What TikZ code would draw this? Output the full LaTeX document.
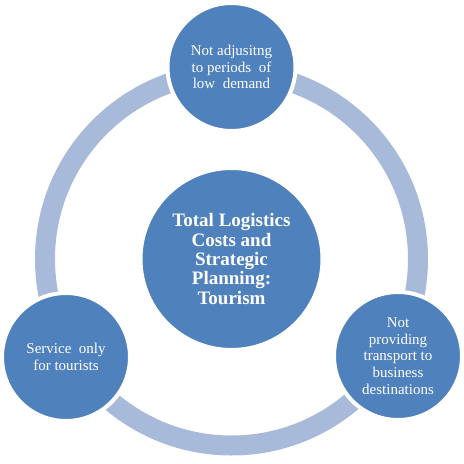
\documentclass[tikz,border=0pt]{standalone}
\usepackage{fontspec}
\setmainfont{Liberation Serif}
\definecolor{nodeblue}{RGB}{79,129,189}
\definecolor{ringblue}{RGB}{168,186,217}
\begin{document}
\begin{tikzpicture}[x=1pt,y=-1pt,
  ring/.style={draw=ringblue,line width=20pt},
  bubble/.style={circle,fill=nodeblue,draw=white,line width=4pt,inner sep=0pt,
    minimum size=128pt,align=center,text=white,font=\fontsize{15}{16.7}\selectfont},
  hub/.style={bubble,minimum size=182pt,font=\fontsize{19}{19.3}\selectfont\bfseries}]
\useasboundingbox (0,0) rectangle (464,464);
\coordinate (c) at (231.5,259);
\draw[ring] (c) circle[radius=186.5pt];
\node[hub] (hubnode) at (c) {Total Logistics\\Costs and\\Strategic\\Planning:\\Tourism};
\node[bubble] (top) at (231.5,67) {Not adjusitng\\to periods\ \ of\\low\ \ demand};
\node[bubble] (left) at (66,357) {Service\ \ only\\for tourists};
\node[bubble] (right) at (398,356) {Not\\providing\\transport to\\business\\destinations};
\end{tikzpicture}
\end{document}
